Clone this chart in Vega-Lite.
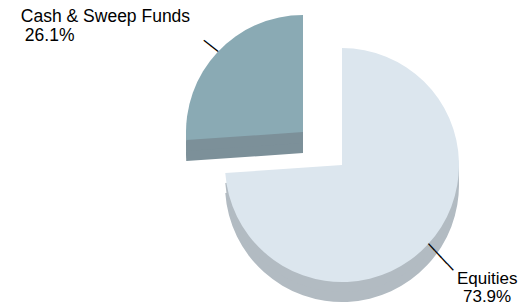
{
  "$schema": "https://vega.github.io/schema/vega-lite/v6.json",
  "autosize": {"type": "none"},
  "width": 370,
  "height": 284,
  "padding": {"left": 157, "top": 23, "right": 0, "bottom": 0},
  "background": "white",
  "config": {"view": {"stroke": null}},
  "data": {
    "values": [
      {"category": "Equities", "share": 0.739},
      {"category": "Cash & Sweep Funds", "share": 0.261}
    ]
  },
  "encoding": {
    "theta": {"field": "share", "type": "quantitative", "stack": true},
    "order": {"field": "share", "type": "quantitative", "sort": "descending"},
    "detail": {"field": "category", "type": "nominal"}
  },
  "layer": [
    {
      "mark": {"type": "arc", "radius": 117, "color": "#b2bbc2", "yOffset": 20},
      "encoding": {"opacity": {"condition": {"test": "datum.category === 'Equities'", "value": 1}, "value": 0}}
    },
    {
      "mark": {"type": "arc", "radius": 117, "color": "#b2bbc2", "yOffset": 10},
      "encoding": {"opacity": {"condition": {"test": "datum.category === 'Equities'", "value": 1}, "value": 0}}
    },
    {
      "mark": {"type": "arc", "radius": 117, "color": "#7c9099", "xOffset": -39, "yOffset": -12},
      "encoding": {"opacity": {"condition": {"test": "datum.category !== 'Equities'", "value": 1}, "value": 0}}
    },
    {
      "mark": {"type": "arc", "radius": 117, "color": "#7c9099", "xOffset": -39, "yOffset": -22},
      "encoding": {"opacity": {"condition": {"test": "datum.category !== 'Equities'", "value": 1}, "value": 0}}
    },
    {
      "mark": {"type": "arc", "radius": 117, "color": "#dce6ee"},
      "encoding": {"opacity": {"condition": {"test": "datum.category === 'Equities'", "value": 1}, "value": 0}}
    },
    {
      "mark": {"type": "arc", "radius": 117, "color": "#8aaab4", "xOffset": -39, "yOffset": -33},
      "encoding": {"opacity": {"condition": {"test": "datum.category !== 'Equities'", "value": 1}, "value": 0}}
    },
    {
      "mark": {"type": "text", "radius": 135, "font": "DejaVu Sans", "fontSize": 15, "angle": 47, "align": "center", "baseline": "middle", "color": "#000000"},
      "encoding": {
        "text": {"value": "────"},
        "opacity": {"condition": {"test": "datum.category === 'Equities'", "value": 1}, "value": 0}
      }
    },
    {
      "mark": {"type": "text", "radius": 126, "font": "DejaVu Sans", "fontSize": 15, "angle": 38, "align": "center", "baseline": "middle", "color": "#000000", "xOffset": -39, "yOffset": -33},
      "encoding": {
        "text": {"value": "──"},
        "opacity": {"condition": {"test": "datum.category !== 'Equities'", "value": 1}, "value": 0}
      }
    },
    {
      "mark": {"type": "text", "radius": 150, "font": "Liberation Sans", "fontSize": 17, "align": "left", "baseline": "alphabetic", "color": "#000000", "dx": 5.3, "dy": 16.7},
      "encoding": {
        "text": {"field": "category", "type": "nominal"},
        "opacity": {"condition": {"test": "datum.category === 'Equities'", "value": 1}, "value": 0}
      }
    },
    {
      "mark": {"type": "text", "radius": 150, "font": "Liberation Sans", "fontSize": 17, "align": "left", "baseline": "alphabetic", "color": "#000000", "dx": 11.3, "dy": 35},
      "encoding": {
        "text": {"field": "share", "type": "quantitative", "format": ".1%"},
        "opacity": {"condition": {"test": "datum.category === 'Equities'", "value": 1}, "value": 0}
      }
    },
    {
      "mark": {"type": "text", "radius": 150, "font": "Liberation Sans", "fontSize": 17.5, "align": "left", "baseline": "alphabetic", "color": "#000000", "dx": -211.5, "dy": -41},
      "encoding": {
        "text": {"field": "category", "type": "nominal"},
        "opacity": {"condition": {"test": "datum.category !== 'Equities'", "value": 1}, "value": 0}
      }
    },
    {
      "mark": {"type": "text", "radius": 150, "font": "Liberation Sans", "fontSize": 17.5, "align": "left", "baseline": "alphabetic", "color": "#000000", "dx": -207.5, "dy": -22},
      "encoding": {
        "text": {"field": "share", "type": "quantitative", "format": ".1%"},
        "opacity": {"condition": {"test": "datum.category !== 'Equities'", "value": 1}, "value": 0}
      }
    }
  ]
}
